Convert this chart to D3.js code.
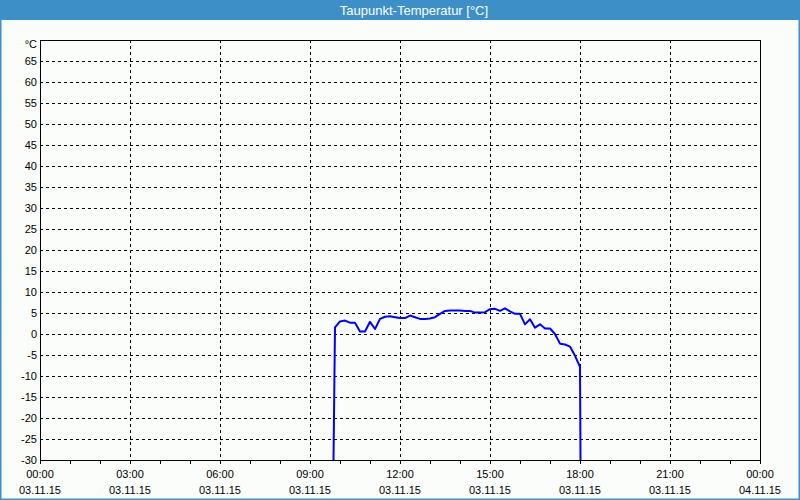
<!DOCTYPE html>
<html>
<head>
<meta charset="utf-8">
<script src="https://cdn.jsdelivr.net/npm/d3@7"></script>
<style>
  html, body { margin: 0; padding: 0; background: #fbfdfb; }
  svg { display: block; }
  text { font-family: "Liberation Sans", Arial, sans-serif; }
</style>
</head>
<body>
<svg id="chart" width="800" height="500"></svg>
<script>
// ---- data ----
const title = "Taupunkt-Temperatur [°C]";
const unitLabel = "°C";
const day = "2015-11-03";
const times = ["09:47","09:50","10:00","10:10","10:20","10:30","10:40","10:50","11:00","11:10","11:20",
  "11:30","11:40","11:50","12:00","12:10","12:20","12:30","12:40","12:50","13:00",
  "13:10","13:20","13:30","13:40","13:50","14:00","14:10","14:20","14:30","14:40",
  "14:50","15:00","15:10","15:20","15:30","15:40","15:50","16:00","16:10","16:20",
  "16:30","16:40","16:50","17:00","17:10","17:20","17:30","17:40","17:50","18:00","18:01"];
const values = [-30,1.6,3.0,3.2,2.7,2.7,0.6,0.6,2.9,1.2,3.6,
  4.1,4.2,4.0,3.8,3.8,4.4,4.0,3.6,3.6,3.7,
  4.0,4.8,5.5,5.6,5.6,5.6,5.5,5.5,5.1,5.1,
  5.2,5.9,6.0,5.5,6.1,5.4,4.8,4.8,2.3,3.5,
  1.5,2.3,1.3,1.3,0.0,-2.3,-2.5,-3.0,-5.2,-7.8,-30];
const yTicks = [-30,-25,-20,-15,-10,-5,0,5,10,15,20,25,30,35,40,45,50,55,60,65];
const xTickHours = [0,3,6,9,12,15,18,21,24];
const xDomainStart = "2015-11-03T00:00";
const xDomainEnd = "2015-11-04T00:00";

// ---- layout ----
const W = 800, H = 500;
const L = 40, R = 760, T = 40, B = 460;
const svg = d3.select("#chart");

// frame
svg.append("rect").attr("x",0).attr("y",0).attr("width",W).attr("height",H).attr("fill","#fbfdfb");
svg.append("rect").attr("x",0).attr("y",0).attr("width",W).attr("height",20).attr("fill","#3c8fc7");
svg.append("rect").attr("x",0.5).attr("y",0.5).attr("width",W-1).attr("height",H-1)
  .attr("fill","none").attr("stroke","#3c8fc7").attr("stroke-width",2);
svg.append("text").attr("x",414).attr("y",15).attr("text-anchor","middle")
  .attr("fill","#ffffff").attr("font-size","13px").text(title);

const parseT = d3.timeParse("%Y-%m-%dT%H:%M");
const x = d3.scaleTime().domain([parseT(xDomainStart), parseT(xDomainEnd)]).range([L, R]);
const y = d3.scaleLinear().domain([-30, 70]).range([B, T]);

// grid
const g = svg.append("g");
yTicks.filter(v => v > -30).forEach(v => {
  g.append("line").attr("x1",L).attr("x2",R).attr("y1",Math.round(y(v))+0.5).attr("y2",Math.round(y(v))+0.5)
    .attr("stroke","#000").attr("stroke-dasharray","3,3").attr("stroke-width",1);
});
const xTickDates = xTickHours.map(h => d3.timeHour.offset(parseT(xDomainStart), h));
xTickDates.slice(1, -1).forEach(d => {
  g.append("line").attr("x1",Math.round(x(d))+0.5).attr("x2",Math.round(x(d))+0.5).attr("y1",T).attr("y2",B)
    .attr("stroke","#000").attr("stroke-dasharray","3,3").attr("stroke-width",1);
});

// hourly ticks
const hours = d3.timeHour.range(parseT(xDomainStart), d3.timeHour.offset(parseT(xDomainEnd),1));
hours.forEach(d => {
  g.append("line").attr("x1",Math.round(x(d))+0.5).attr("x2",Math.round(x(d))+0.5).attr("y1",B).attr("y2",B+4)
    .attr("stroke","#000").attr("stroke-width",1);
});

// y labels
yTicks.forEach(v => {
  svg.append("text").attr("x",37).attr("y",y(v)+4).attr("text-anchor","end")
    .attr("font-size","11px").attr("fill","#000").text(v);
});
svg.append("text").attr("x",37).attr("y",y(70)+8).attr("text-anchor","end")
  .attr("font-size","11px").attr("fill","#000").text(unitLabel);

// x labels
const fmtTime = d3.timeFormat("%H:%M"), fmtDate = d3.timeFormat("%d.%m.%y");
xTickDates.forEach(d => {
  svg.append("text").attr("x",x(d)).attr("y",478).attr("text-anchor","middle")
    .attr("font-size","11px").attr("fill","#000").text(fmtTime(d));
  svg.append("text").attr("x",x(d)).attr("y",494).attr("text-anchor","middle")
    .attr("font-size","11px").attr("fill","#000").text(fmtDate(d));
});

// data line
svg.append("clipPath").attr("id","clip").append("rect").attr("x",L).attr("y",T).attr("width",R-L).attr("height",B-T);
const data = times.map((t,i) => ({d: parseT(day + "T" + t), v: values[i]}));
svg.append("path").datum(data).attr("clip-path","url(#clip)")
  .attr("fill","none").attr("stroke","#0000ff").attr("stroke-width",2).attr("stroke-linejoin","round")
  .attr("d", d3.line().x(d => x(d.d)).y(d => y(d.v)));

// plot frame
svg.append("rect").attr("x",L+0.5).attr("y",T+0.5).attr("width",R-L).attr("height",B-T)
  .attr("fill","none").attr("stroke","#000").attr("stroke-width",1);
</script>
</body>
</html>
